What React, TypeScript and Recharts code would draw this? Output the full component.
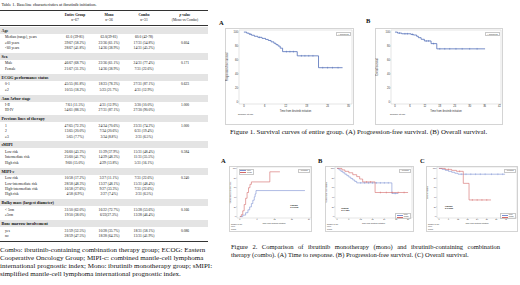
import React from 'react';
import { ComposedChart, Line, Scatter, XAxis, YAxis, ReferenceArea } from 'recharts';

const SERIF = '"Liberation Serif", "Times New Roman", serif';
const SANS = '"Liberation Sans", Arial, sans-serif';

// ---------------- Table data ----------------
const tableTitle = 'Table 1. Baseline characteristics at ibrutinib initiation.';
const headNames = ['Entire Group', 'Mono', 'Combo'];
const headNs = ['n=67', 'n=36', 'n=31'];
const sectionNames = [
  'Age', 'Sex', 'ECOG performance status', 'Ann Arbor stage', 'Previous lines of therapy',
  'sMIPI', 'MIPI-c', 'Bulky mass (largest diameter)', 'Bone marrow involvement',
];
const ageRows = [
  ['Median (range), years', '61.0 (39-81)', '63.0(39-81)', '60.0 (42-78)', ''],
  ['\u226560 years', '39/67 (58.2%)', '22/36 (61.1%)', '17/31 (54.8%)', '0.604'],
  ['<60 years', '28/67 (41.8%)', '14/36 (38.9%)', '14/31 (45.2%)', ''],
];
const sexRows = [
  ['Male', '46/67 (68.7%)', '22/36 (61.1%)', '24/31 (77.4%)', '0.171'],
  ['Female', '21/67 (31.3%)', '14/36 (38.9%)', '7/31 (22.6%)', ''],
];
const ecogRows = [
  ['0-1', '45/55 (81.8%)', '18/23 (78.3%)', '27/31 (87.1%)', '0.623'],
  ['\u22652', '10/55 (18.2%)', '5/23 (21.7%)', '4/31 (12.9%)', ''],
];
const stageRows = [
  ['I-II', '7/61 (11.5%)', '4/31 (12.9%)', '3/30 (10.0%)', '1.000'],
  ['III-IV', '54/61 (88.5%)', '27/31 (87.1%)', '27/30 (90.0%)', ''],
];
const linesRows = [
  ['1', '47/65 (72.3%)', '24/34 (70.6%)', '23/31 (74.2%)', '1.000'],
  ['2', '13/65 (20.0%)', '7/34 (20.6%)', '6/31 (19.4%)', ''],
  ['\u22653', '5/65 (7.7%)', '3/34 (8.8%)', '2/31 (6.5%)', ''],
];
const smipiRows = [
  ['Low risk', '26/60 (43.3%)', '11/29 (37.9%)', '15/31 (48.4%)', '0.584'],
  ['Intermediate risk', '25/60 (41.7%)', '14/29 (48.3%)', '11/31 (35.5%)', ''],
  ['High risk', '9/60 (15.0%)', '4/29 (13.8%)', '5/31 (16.1%)', ''],
];
const mipicRows = [
  ['Low risk', '10/58 (17.2%)', '3/27 (11.1%)', '7/31 (22.6%)', '0.240'],
  ['Low-intermediate risk', '28/58 (48.3%)', '13/27 (48.1%)', '15/31 (48.4%)', ''],
  ['High-intermediate risk', '16/58 (27.6%)', '9/27 (33.3%)', '7/31 (22.6%)', ''],
  ['High risk', '4/58 (6.9%)', '2/27 (7.4%)', '2/31 (6.5%)', ''],
];
const bulkyRows = [
  ['< 5cm', '31/50 (62.0%)', '16/22 (72.7%)', '15/28 (53.6%)', '0.166'],
  ['\u22655cm', '19/50 (38.0%)', '6/22(27.3%)', '13/28 (46.4%)', ''],
];
const marrowRows = [
  ['yes', '31/59 (52.5%)', '10/28 (35.7%)', '18/31 (58.1%)', '0.086'],
  ['no', '28/59 (47.5%)', '18/28 (64.3%)', '13/31 (41.9%)', ''],
];
const sectionRows = [ageRows, sexRows, ecogRows, stageRows, linesRows, smipiRows, mipicRows, bulkyRows, marrowRows];
const footLines = [
  'Combo: ibrutinib-containing combination therapy group; ECOG: Eastern',
  'Cooperative Oncology Group; MIPI-c: combined mantle-cell lymphoma',
  'international prognostic index; Mono: ibrutinib monotherapy group; sMIPI:',
  'simplified mantle-cell lymphoma international prognostic index.',
];

// ---------------- Figure data ----------------
const fig1Caption = 'Figure 1. Survival curves of entire group. (A) Progression-free survival. (B) Overall survival.';
const fig2CaptionA = 'Figure 2. Comparison of ibrutinib monotherapy (mono) and ibrutinib-containing combination';
const fig2CaptionB = 'therapy (combo). (A) Time to response. (B) Progression-free survival. (C) Overall survival.';

const ticks24 = [0, 6, 12, 18, 24];
const ticks30 = [0, 6, 12, 18, 24, 30];
const ticks36 = [0, 6, 12, 18, 24, 30, 36];
const ticks42 = [0, 6, 12, 18, 24, 30, 36, 42];
const yTicks = [0, 20, 40, 60, 80, 100];

// Fig 1A PFS, entire group
const pfsAll = [[0, 100], [0.8, 98.5], [1.5, 97], [2.2, 95.5], [3, 94], [4, 92.5], [5.2, 91], [6.2, 89.5], [7, 88], [7.8, 86], [8.6, 84], [9.2, 82], [9.8, 80], [10.4, 77], [11.1, 72], [15.3, 66], [21.4, 49], [28.3, 49]];
const pfsAllCens = [[1.8, 97], [4.5, 92.5], [12.2, 72], [13.2, 72], [14.2, 72], [16.5, 66], [17.5, 66], [18.6, 66], [19.8, 66], [22.6, 49], [24, 49], [25.4, 49], [27, 49]];
const pfsAllRisk = [67, 40, 17, 7, 2, 0];

// Fig 1B OS, entire group
const osAll = [[0, 100], [1, 98.6], [2.7, 97.6], [6.4, 96.7], [7.4, 95.8], [8.7, 94], [9.4, 92], [10.5, 89.7], [11.8, 87.3], [14.5, 83.5], [16.8, 76], [36.2, 76]];
const osAllCens = [[1.8, 98.6], [4, 97.6], [5, 97.6], [7, 96.7], [12.6, 87.3], [13.5, 87.3], [15.5, 83.5], [18, 76], [20, 76], [22, 76], [24.5, 76], [27, 76], [30, 76], [33, 76]];
const osAllRisk = [67, 50, 20, 8, 3, 2, 1, 0];

// Fig 2A time to response
const ttrMono = [[0, 0], [1, 3], [2, 8], [2.8, 14], [3.4, 20], [4, 27], [4.5, 34], [5, 41], [5.3, 47], [5.6, 54], [22.6, 54]];
const ttrCombo = [[0, 0], [0.5, 4], [1, 12], [1.5, 25], [2, 38], [2.5, 50], [3, 60], [3.5, 67], [4, 72], [10.4, 93], [13.9, 93]];
const ttrMonoRisk = [36, 14, 3, 1, 0];
const ttrComboRisk = [31, 4, 1, 0, 0];

// Fig 2B PFS, mono vs combo
const pfsMono = [[0, 100], [1, 97], [2, 94], [3, 91], [4, 88], [5, 85], [6, 82], [7, 79], [8, 76], [9, 73], [10, 70], [27.8, 48], [31, 48]];
const pfsCombo = [[0, 100], [2.5, 97], [4, 94], [6, 91], [8, 87], [10, 83], [11.5, 78], [13, 72], [19.3, 50], [36, 50]];
const pfsMonoCens = [[12, 70], [14, 70], [16, 70], [18, 70], [20, 70], [22, 70], [24, 70], [26, 70], [29.5, 48]];
const pfsComboCens = [[15, 72], [17, 72], [22, 50], [25, 50], [28, 50], [31, 50], [34, 50]];
const pfsMonoRisk = [36, 25, 17, 9, 3, 1, 0];
const pfsComboRisk = [31, 25, 16, 6, 2, 1, 0];

// Fig 2C OS, mono vs combo
const osMono = [[0, 100], [2, 98], [4, 96], [6, 94], [8, 92], [10, 90], [12, 88], [41.5, 88]];
const osCombo = [[0, 100], [4, 98], [8, 96], [11, 94], [15.3, 69], [18.9, 34.5], [32.7, 34.5]];
const osMonoCens = [[14, 88], [17, 88], [20, 88], [23, 88], [26, 88], [29, 88], [33, 88], [37, 88], [40, 88]];
const osComboCens = [[6, 98], [13, 94], [21, 34.5], [24, 34.5], [27, 34.5], [30, 34.5]];
const osMonoRisk = [36, 30, 20, 10, 5, 2, 1, 0];
const osComboRisk = [31, 26, 15, 3, 1, 1, 0, 0];

const BLUE1 = '#4766b4';
const BLUE2 = '#7b8fd2';
const RED = '#d46868';

const toPts = (a: number[][]) => a.map(([t, s]) => ({ t, s }));

type Ser = { name: string; color: string; pts: number[][]; cens: number[][]; risk: number[] };

function CensorMark(props: any) {
  const { cx, cy, fill } = props;
  if (cx == null || cy == null) return null;
  return <line x1={cx} x2={cx} y1={cy - 0.9} y2={cy + 0.9} stroke={fill} strokeWidth={0.45} />;
}

type KMProps = {
  w: number; h: number; xDom: [number, number]; ticks: number[]; yLabel: string; series: Ser[];
  legendPos?: 'tl' | 'br'; logrank?: string; lrPos?: [number, number];
  ml: number; mt: number; mr: number; mb: number; yW: number; xH: number; sH: number; rH: number; fs: number; lw: number;
};

function KM(p: KMProps) {
  const { w, h, xDom, ticks, yLabel, series, legendPos, logrank, lrPos, ml, mt, mr, mb, yW, xH, sH, rH, fs, lw } = p;
  const nR = series.length;
  const plotL = ml + yW;
  const plotT = mt;
  const plotR = w - mr;
  const plotB = h - mb - xH - sH - rH * nR;
  const two = nR > 1;
  const tickStyle = { fontSize: fs, fill: '#333', fontFamily: SANS };
  return (
    <div style={{ position: 'relative', width: w, height: h, background: '#fff' }}>
      <div style={{ position: 'absolute', left: 0, top: 0, width: w, height: h, border: '0.6px solid #d4d4d4', boxSizing: 'border-box' }} />
      <ComposedChart width={w} height={h} margin={{ left: ml, top: mt, right: mr, bottom: mb }} style={{ position: 'absolute', left: 0, top: 0 }}>
        <XAxis
          xAxisId="main" dataKey="t" type="number" domain={xDom} ticks={ticks} allowDataOverflow interval={0}
          tick={tickStyle} tickSize={0.8} tickMargin={0.3} tickLine={{ stroke: '#888', strokeWidth: 0.3 }}
          axisLine={false} height={xH}
          label={{ value: 'Time from ibrutinib initiation', position: 'insideBottom', offset: 0, fontSize: fs, fill: '#333', fontFamily: SANS }}
        />
        <XAxis xAxisId="spacer" type="number" domain={xDom} ticks={[]} axisLine={false} tickLine={false} height={sH} />
        {series.map((s, i) => (
          <XAxis
            key={'r' + i} xAxisId={'r' + i} type="number" domain={xDom} ticks={ticks} interval={0} allowDataOverflow
            axisLine={false} tickLine={false} height={rH} tickSize={0} tickMargin={0.3}
            tick={tickStyle}
            tickFormatter={(v: number) => String(s.risk[ticks.indexOf(v)] ?? '')}
          />
        ))}
        <YAxis
          yAxisId="y" type="number" domain={[-3, 103]} ticks={yTicks} width={yW} interval={0} allowDataOverflow
          tick={tickStyle} tickSize={0.8} tickMargin={0.3} tickLine={{ stroke: '#888', strokeWidth: 0.3 }}
          axisLine={false}
          label={{ value: yLabel, angle: -90, position: 'insideLeft', offset: fs * 0.4, fontSize: fs, fill: '#333', fontFamily: SANS, style: { textAnchor: 'middle' } }}
        />
        <ReferenceArea xAxisId="main" yAxisId="y" x1={xDom[0]} x2={xDom[1]} y1={-3} y2={103} fill="none" stroke="#c8c8c8" strokeWidth={0.5} ifOverflow="visible" />
        {series.map((s, i) => (
          <Line
            key={'l' + i} xAxisId="main" yAxisId="y" data={toPts(s.pts)} dataKey="s" type="stepAfter"
            stroke={s.color} strokeWidth={lw} dot={false} isAnimationActive={false}
          />
        ))}
        {series.map((s, i) => (
          <Scatter
            key={'c' + i} xAxisId="main" yAxisId="y" data={toPts(s.cens)} dataKey="s" fill={s.color}
            shape={<CensorMark />} isAnimationActive={false}
          />
        ))}
      </ComposedChart>
      <div style={{ position: 'absolute', left: two ? 2 : plotL - 1, top: plotB + xH + sH / 2 - fs * 0.6, fontSize: fs * 0.9, fontFamily: SANS, color: '#333', whiteSpace: 'nowrap', lineHeight: 1 }}>
        Number at risk
      </div>
      {two && series.map((s, i) => (
        <div key={'rn' + i} style={{ position: 'absolute', left: 2, top: plotB + xH + sH + rH * i + 0.2, fontSize: fs * 0.85, fontFamily: SANS, color: '#333', lineHeight: 1 }}>
          {s.name}
        </div>
      ))}
      <div style={{ position: 'absolute', right: mr + 1.5, top: plotT + 1.5, fontSize: fs * 0.8, fontFamily: SANS, color: '#333', border: '0.4px solid #c8c8c8', padding: '0.4px 0.8px', lineHeight: 1, whiteSpace: 'nowrap' }}>
        + Censored
      </div>
      {two && (
        <div style={{
          position: 'absolute',
          ...(legendPos === 'tl' ? { left: plotL + 1.5, top: plotT + 1.5 } : { right: mr + 1.5, top: plotB - fs * 2.6 }),
          fontSize: fs * 0.8, fontFamily: SANS, color: '#333', border: '0.4px solid #c8c8c8', padding: '0.4px 0.8px', lineHeight: 1.15, whiteSpace: 'nowrap',
        }}>
          {series.map((s, i) => (
            <div key={'lg' + i} style={{ display: 'flex', alignItems: 'center' }}>
              <span style={{ display: 'inline-block', width: fs * 3, height: 0.6, background: s.color, marginRight: 1 }} />
              {s.name}
            </div>
          ))}
        </div>
      )}
      {logrank && lrPos && (
        <div style={{
          position: 'absolute', left: plotL + (plotR - plotL) * lrPos[0], top: plotT + (plotB - plotT) * lrPos[1],
          fontSize: fs, fontFamily: SANS, color: '#111', fontWeight: 'bold', lineHeight: 1.1, whiteSpace: 'nowrap',
        }}>
          <div>Logrank</div>
          <div>{logrank}</div>
        </div>
      )}
    </div>
  );
}

const COLS = [75, 109, 144, 185];

function TableRow({ cells, h, fs }: { cells: string[]; h: number; fs: number }) {
  return (
    <div style={{ position: 'relative', height: h, fontSize: fs, lineHeight: h + 'px', whiteSpace: 'nowrap' }}>
      <span style={{ position: 'absolute', left: 5 }}>{cells[0]}</span>
      {COLS.map((c, i) => (
        <span key={i} style={{ position: 'absolute', left: c - 25, width: 50, textAlign: 'center' }}>{cells[i + 1]}</span>
      ))}
    </div>
  );
}

function Table() {
  return (
    <div style={{ position: 'absolute', left: 0, top: 0, width: 208, height: 285, fontFamily: SERIF, color: '#111' }}>
      <div style={{ position: 'absolute', left: 1.5, top: 2.5, fontSize: 4.4, whiteSpace: 'nowrap', lineHeight: 1 }}>{tableTitle}</div>
      <div style={{ position: 'absolute', left: 0, top: 10.3, width: 208, height: 1.1, background: '#333' }} />
      {COLS.map((c, i) => (
        <div key={i} style={{ position: 'absolute', left: c - 25, width: 50, top: 13, textAlign: 'center', fontSize: 3.6, lineHeight: '5px', fontWeight: 'bold', whiteSpace: 'nowrap' }}>
          {i < 3 ? (
            <>
              <div>{headNames[i]}</div>
              <div style={{ fontWeight: 'normal' }}>{headNs[i]}</div>
            </>
          ) : (
            <>
              <div><i>p</i> value</div>
              <div style={{ fontWeight: 'normal' }}>(Mono vs Combo)</div>
            </>
          )}
        </div>
      ))}
      <div style={{ position: 'absolute', left: 0, top: 25, width: 208, height: 0.6, background: '#333' }} />
      <div style={{ position: 'absolute', left: 0, top: 26.8, width: 208 }}>
        {sectionNames.map((name, si) => (
          <div key={si}>
            <div style={{ height: 7, background: '#e4e4e4', fontWeight: 'bold', fontSize: 4.1, lineHeight: '7px', paddingLeft: 1.5, whiteSpace: 'nowrap' }}>{name}</div>
            <div style={{ height: 1.5 }} />
            {sectionRows[si].map((r, ri) => (
              <TableRow key={ri} cells={r} h={5.4} fs={3.6} />
            ))}
            <div style={{ height: 1.5 }} />
          </div>
        ))}
      </div>
      <div style={{ position: 'absolute', left: 0, top: 241, width: 208, height: 1.1, background: '#333' }} />
      <div style={{ position: 'absolute', left: 0, top: 245.5, fontSize: 7, lineHeight: '8px', whiteSpace: 'nowrap' }}>
        {footLines.map((l, i) => <div key={i}>{l}</div>)}
      </div>
    </div>
  );
}

const panelLabel = (txt: string, left: number, top: number) => (
  <div style={{ position: 'absolute', left, top, fontFamily: SERIF, fontWeight: 'bold', fontSize: 6.5, lineHeight: 1 }}>{txt}</div>
);

export default function App() {
  const s1a: Ser[] = [{ name: 'All', color: BLUE1, pts: pfsAll, cens: pfsAllCens, risk: pfsAllRisk }];
  const s1b: Ser[] = [{ name: 'All', color: BLUE1, pts: osAll, cens: osAllCens, risk: osAllRisk }];
  const s2a: Ser[] = [
    { name: 'Mono', color: BLUE2, pts: ttrMono, cens: [], risk: ttrMonoRisk },
    { name: 'Combo', color: RED, pts: ttrCombo, cens: [], risk: ttrComboRisk },
  ];
  const s2b: Ser[] = [
    { name: 'Mono', color: BLUE2, pts: pfsMono, cens: pfsMonoCens, risk: pfsMonoRisk },
    { name: 'Combo', color: RED, pts: pfsCombo, cens: pfsComboCens, risk: pfsComboRisk },
  ];
  const s2c: Ser[] = [
    { name: 'Mono', color: BLUE2, pts: osMono, cens: osMonoCens, risk: osMonoRisk },
    { name: 'Combo', color: RED, pts: osCombo, cens: osComboCens, risk: osComboRisk },
  ];
  const big = { mt: 2, mb: 3.5, xH: 8, sH: 4.5, rH: 5, fs: 2.6, lw: 0.75 };
  const small = { mt: 1, mb: 1, xH: 5.5, sH: 2.5, rH: 2.5, fs: 1.9, lw: 0.6 };
  return (
    <div style={{ position: 'absolute', left: 0, top: 0, width: 520, height: 285, overflow: 'hidden', background: '#fff', fontFamily: SERIF, color: '#111' }}>
      <Table />

      {panelLabel('A', 219, 20)}
      <div style={{ position: 'absolute', left: 225, top: 28 }}>
        <KM w={129} h={97} xDom={[-1.4, 31]} ticks={ticks30} yLabel="Progression-free survival" series={s1a} ml={1} yW={13} mr={2} {...big} />
      </div>
      {panelLabel('B', 366, 18)}
      <div style={{ position: 'absolute', left: 375, top: 28 }}>
        <KM w={128} h={97} xDom={[-1.6, 42.6]} ticks={ticks42} yLabel="Overall survival" series={s1b} ml={1} yW={15} mr={2} {...big} />
      </div>
      <div style={{ position: 'absolute', left: 230, top: 127.5, fontSize: 6.9, lineHeight: '7px', whiteSpace: 'nowrap' }}>{fig1Caption}</div>

      {panelLabel('A', 221, 158)}
      <div style={{ position: 'absolute', left: 229, top: 166 }}>
        <KM w={83} h={66} xDom={[-1, 24.7]} ticks={ticks24} yLabel="Cumulative response rate" series={s2a} legendPos="tl" logrank="p=0.0012" lrPos={[0.72, 0.72]} ml={1} yW={7} mr={1} {...small} />
      </div>
      {panelLabel('B', 318, 158)}
      <div style={{ position: 'absolute', left: 325, top: 166 }}>
        <KM w={89} h={66} xDom={[-1, 38]} ticks={ticks36} yLabel="Progression-free survival" series={s2b} legendPos="br" logrank="p=0.4023" lrPos={[0.08, 0.78]} ml={1} yW={9} mr={2} {...small} />
      </div>
      {panelLabel('C', 420, 158)}
      <div style={{ position: 'absolute', left: 426, top: 166 }}>
        <KM w={92} h={66} xDom={[-1.2, 49]} ticks={ticks42} yLabel="Overall survival" series={s2c} legendPos="br" logrank="p=0.3396" lrPos={[0.1, 0.74]} ml={1} yW={10} mr={1} {...small} />
      </div>
      <div style={{ position: 'absolute', left: 231, top: 243, width: 269, fontSize: 6.5, lineHeight: '8px' }}>
        <div style={{ textAlign: 'justify', textAlignLast: 'justify' }}>{fig2CaptionA}</div>
        <div style={{ whiteSpace: 'nowrap' }}>{fig2CaptionB}</div>
      </div>
    </div>
  );
}
